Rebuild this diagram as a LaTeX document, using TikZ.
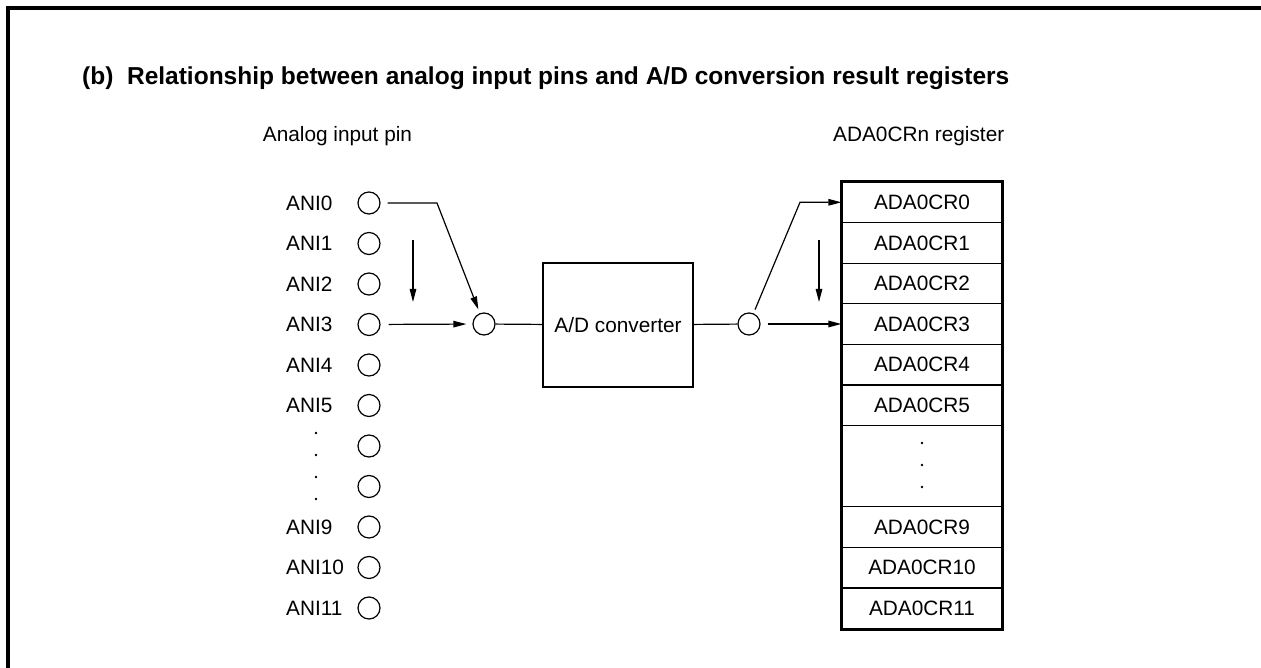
\documentclass[tikz,border=0pt]{standalone}
\usepackage{fontspec}
\setmainfont{Liberation Sans}
\usetikzlibrary{arrows.meta}
\begin{document}
\begin{tikzpicture}[x=1pt,y=-1pt,
  every node/.style={font=\fontsize{20.8}{25}\selectfont, inner sep=0pt},
  pinc/.style={circle, draw, line width=1.2pt, minimum size=22pt},
  arr/.style={line width=1.2pt, -{Triangle[length=13pt,width=6.5pt]}},
  ln/.style={line width=1.2pt},
  reg/.style={draw, line width=1.2pt, minimum width=160pt, minimum height=40.6pt},
  dotm/.style={circle, fill, inner sep=0pt, minimum size=2.6pt},
]
\useasboundingbox (0,0) rectangle (1261,668);
\draw[line width=4pt] (8,668) -- (8,8) -- (1261,8);

\node[anchor=base west, font=\bfseries\fontsize{24.5}{29}\selectfont] (title) at (82,85)
  {(b)\ \ Relationship between analog input pins and A/D conversion result registers};
\node[anchor=base] (hin) at (337.5,142) {Analog input pin};
\node[anchor=base west] (hreg) at (833,142) {ADA0CRn register};

% pins
\foreach \i in {0,...,10} \node[pinc] (p\i) at (369, 203+40.5*\i) {};
\foreach \i/\t in {0/ANI0,1/ANI1,2/ANI2,3/ANI3,4/ANI4,5/ANI5,8/ANI9,9/ANI10,10/ANI11}
  \node[anchor=base west] (l\i) at (286, 210.4+40.5*\i) {\t};
\foreach \j/\yy in {1/433,2/455,3/477,4/499} \node[dotm] (pd\j) at (316,\yy) {};

% multiplexer, converter
\node[pinc] (mux) at (484,324) {};
\node[draw, line width=2.2pt, minimum width=150pt, minimum height=124pt] (adc) at (618,325) {A/D converter};
\node[pinc] (dmux) at (749,324) {};

% registers
\foreach \i in {0,...,5} \node[reg] (r\i) at (922, 202.3+40.6*\i) {ADA0CR\i};
\node[reg, minimum height=81.2pt] (rdots) at (922,466.2) {};
\foreach \j/\yy in {1/443,2/465,3/487} \node[dotm] (rd\j) at (922,\yy) {};
\node[reg] (r9) at (922,527.1) {ADA0CR9};
\node[reg] (r10) at (922,567.7) {ADA0CR10};
\node[reg] (r11) at (922,608.3) {ADA0CR11};
\draw[line width=2.6pt] (r0.north west) rectangle (r11.south east);

% connectors
\coordinate (k0) at (437,203);
\draw[arr, shorten <=7pt, shorten >=4pt] (p0) -- (k0) -- (mux);
\draw[arr, shorten <=8pt, shorten >=6pt] (p3) -- (mux);
\coordinate (va1) at (413,240);
\coordinate (va2) at (413,302);
\draw[arr] (va1) -- (va2);
\draw[ln] (mux) -- (adc);
\draw[ln] (adc) -- (dmux);
\draw[arr, shorten <=7pt] (dmux) -- (dmux -| r3.west);
\coordinate (k1) at (800,202.3);
\draw[arr, shorten <=4pt] (dmux) -- (k1) -- (r0.west);
\coordinate (vb1) at (819,240);
\coordinate (vb2) at (819,302);
\draw[arr] (vb1) -- (vb2);
\end{tikzpicture}
\end{document}
